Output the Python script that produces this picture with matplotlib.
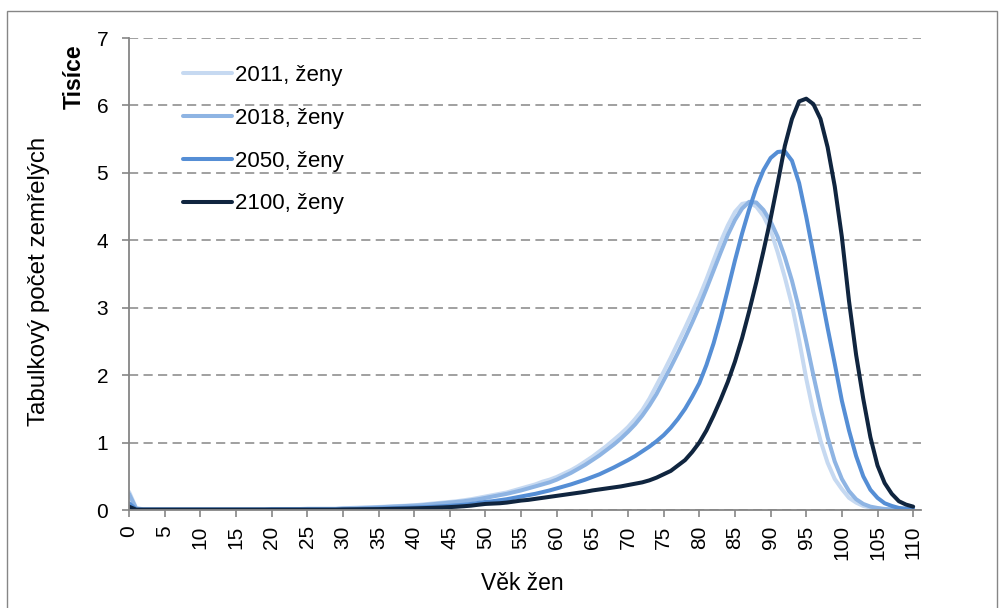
import numpy as np
import matplotlib
matplotlib.use("Agg")
import matplotlib.pyplot as plt
from matplotlib.patches import Rectangle

plt.rcParams['font.family'] = ['Liberation Sans', 'DejaVu Sans']

ages = np.arange(0, 111)

w2011 = [0.27, 0.03] + [0.01]*18 + [0.015]*5 + [0.02]*5 + [
    0.03, 0.03, 0.035, 0.04, 0.04, 0.045, 0.05, 0.055, 0.06, 0.065,
    0.07, 0.08, 0.09, 0.10, 0.11, 0.12, 0.13, 0.145, 0.16, 0.18,
    0.20, 0.22, 0.24, 0.26, 0.29, 0.32, 0.35, 0.38, 0.42, 0.45,
    0.49, 0.54, 0.59, 0.65, 0.72, 0.79, 0.87, 0.95, 1.04, 1.13,
    1.23, 1.35, 1.48, 1.65, 1.85, 2.05, 2.26, 2.48, 2.70, 2.93,
    3.16, 3.42, 3.70, 3.98, 4.22, 4.42, 4.54, 4.56, 4.50, 4.36,
    4.15, 3.82, 3.45, 3.04, 2.52, 1.95, 1.45, 1.03, 0.70, 0.46,
    0.31, 0.18, 0.11, 0.06, 0.035, 0.02, 0.01, 0.005, 0.003, 0.002, 0.001]

w2018 = [0.24, 0.02] + [0.01]*18 + [0.01]*5 + [0.015]*5 + [
    0.02, 0.025, 0.025, 0.03, 0.035, 0.04, 0.045, 0.05, 0.055, 0.06,
    0.065, 0.07, 0.08, 0.09, 0.10, 0.11, 0.12, 0.13, 0.145, 0.16,
    0.18, 0.20, 0.22, 0.24, 0.265, 0.29, 0.32, 0.35, 0.38, 0.41,
    0.45, 0.50, 0.55, 0.61, 0.67, 0.74, 0.81, 0.89, 0.97, 1.06,
    1.16, 1.27, 1.40, 1.55, 1.72, 1.92, 2.12, 2.33, 2.55, 2.78,
    3.02, 3.28, 3.55, 3.82, 4.08, 4.30, 4.47, 4.57, 4.56, 4.45,
    4.28, 4.05, 3.75, 3.40, 2.98, 2.50, 2.00, 1.52, 1.08, 0.72,
    0.46, 0.28, 0.16, 0.09, 0.05, 0.03, 0.015, 0.008, 0.004, 0.002, 0.001]

w2050 = [0.10, 0.01] + [0.005]*18 + [0.01]*10 + [
    0.012, 0.013, 0.015, 0.017, 0.019, 0.021, 0.024, 0.027, 0.03, 0.033,
    0.036, 0.04, 0.044, 0.049, 0.055, 0.062, 0.07, 0.078, 0.09, 0.105,
    0.12, 0.13, 0.145, 0.16, 0.18, 0.20, 0.22, 0.24, 0.265, 0.29,
    0.32, 0.35, 0.38, 0.415, 0.45, 0.49, 0.53, 0.58, 0.63, 0.685,
    0.74, 0.80, 0.87, 0.94, 1.02, 1.11, 1.22, 1.35, 1.50, 1.68,
    1.88, 2.15, 2.47, 2.85, 3.27, 3.70, 4.10, 4.46, 4.78, 5.04,
    5.22, 5.31, 5.32, 5.18, 4.85, 4.35, 3.80, 3.25, 2.70, 2.17,
    1.62, 1.18, 0.80, 0.50, 0.30, 0.18, 0.10, 0.06, 0.03, 0.02, 0.01]

w2100 = [0.05, 0.005] + [0.005]*28 + [
    0.008, 0.009, 0.01, 0.011, 0.012, 0.013, 0.015, 0.017, 0.019, 0.021,
    0.024, 0.027, 0.03, 0.034, 0.038, 0.043, 0.049, 0.056, 0.065, 0.078,
    0.09, 0.095, 0.10, 0.11, 0.125, 0.14, 0.15, 0.165, 0.18, 0.195,
    0.21, 0.225, 0.24, 0.255, 0.27, 0.29, 0.305, 0.32, 0.335, 0.35,
    0.37, 0.39, 0.41, 0.44, 0.48, 0.53, 0.58, 0.66, 0.74, 0.86,
    1.00, 1.18, 1.40, 1.64, 1.90, 2.20, 2.55, 2.95, 3.38, 3.84,
    4.32, 4.85, 5.40, 5.80, 6.06, 6.10, 6.02, 5.80, 5.38, 4.80,
    4.05, 3.10, 2.30, 1.65, 1.08, 0.66, 0.40, 0.24, 0.13, 0.08, 0.05]

series = [("2011, ženy", w2011, "#C6D9F1"),
          ("2018, ženy", w2018, "#8EB4E3"),
          ("2050, ženy", w2050, "#558ED5"),
          ("2100, ženy", w2100, "#10253F")]

xticks = list(range(0, 111, 5))
yticks = list(range(0, 8))

W, H = 1001, 608
fig = plt.figure(figsize=(W/100, H/100), dpi=100)
ax = fig.add_axes([129/W, 1-510/H, (921-129)/W, (510-38)/H])

for label, vals, col in series:
    ax.plot(ages, vals, color=col, lw=2.9, label=label, solid_capstyle='round',
            solid_joinstyle='round')

ax.set_xlim(0, 111.1)
ax.set_ylim(0, 7)
ax.set_xticks(xticks)
ax.set_xticklabels([str(t) for t in xticks], rotation=90, fontsize=15)
ax.set_yticks(yticks)
ax.set_yticklabels([str(t) for t in yticks], fontsize=15)
ax.tick_params(axis='both', direction='out', length=5, width=1.2, color='#868686')
ax.tick_params(axis='x', pad=6)
ax.tick_params(axis='y', pad=10)
for s in ['top', 'right']:
    ax.spines[s].set_visible(False)
for s in ['left', 'bottom']:
    ax.spines[s].set_color('#868686')
    ax.spines[s].set_linewidth(1.3)
ax.yaxis.grid(True, color='#868686', linestyle=(0, (6, 3.5)), linewidth=1.1)
ax.set_axisbelow(True)

fig.text(39/W, 1-281/H, "Tabulkový počet zemřelých", rotation=90, fontsize=17.4,
         ha='center', va='center')
fig.text(74/W, 1-44/H, "Tisíce", rotation=90, fontsize=16.5, fontweight='bold',
         ha='center', va='top')
fig.text(522/W, 1-583/H, "Věk žen", fontsize=16.5, ha='center', va='center')

leg = ax.legend(loc='upper left', bbox_to_anchor=((183-129)/792, (510-65)/472),
                frameon=False, fontsize=16, handlelength=2.2, handletextpad=0.15,
                labelspacing=0.98, borderpad=0, borderaxespad=0)

fig.patches.append(Rectangle((7/W, -0.01), (997-7)/W, 1-11/H + 0.01,
                             transform=fig.transFigure, fill=False,
                             edgecolor='#868686', linewidth=1.0))

fig.savefig("out.png", dpi=100)
